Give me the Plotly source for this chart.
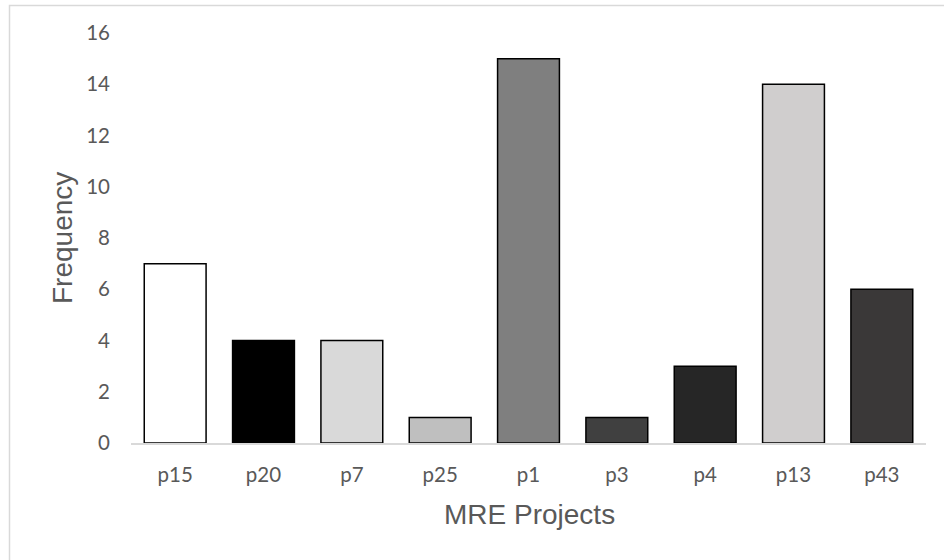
import plotly.graph_objects as go

projects = ["p15", "p20", "p7", "p25", "p1", "p3", "p4", "p13", "p43"]
frequency = [7, 4, 4, 1, 15, 1, 3, 14, 6]
bar_colors = ["#ffffff", "#000000", "#d9d9d9", "#bfbfbf", "#7f7f7f",
              "#404040", "#262626", "#d0cece", "#3a3838"]
y_ticks = [0, 2, 4, 6, 8, 10, 12, 14, 16]

W, H = 944, 560
L, R, T, B = 131, 18, 33, 117
pw, ph = W - L - R, H - T - B

def px_x(x):
    return (x - L) / pw

def px_y(y):
    return (H - B - y) / ph

fig = go.Figure(go.Bar(
    x=projects, y=frequency,
    marker=dict(color=bar_colors, line=dict(color="#000000", width=1.5)),
    width=0.7,
))

tick_font = dict(family="Lato, Carlito, Calibri, sans-serif", size=20.5, color="#595959")
title_font = dict(family="Arial, Liberation Sans, sans-serif", size=28, color="#595959")

fig.update_layout(
    width=W, height=H,
    margin=dict(l=L, r=R, t=T, b=B, pad=0),
    paper_bgcolor="#ffffff", plot_bgcolor="#ffffff",
    showlegend=False,
    bargap=0.3,
    xaxis=dict(
        showgrid=False, showline=True, linecolor="#d9d9d9", linewidth=1.5,
        ticks="", tickfont=tick_font, ticklabelstandoff=13,
    ),
    yaxis=dict(
        range=[0, 16], tickvals=y_ticks, showgrid=False, showline=False,
        zeroline=False, ticks="", tickfont=tick_font, ticklabelstandoff=20,
    ),
    shapes=[dict(
        type="rect", xref="paper", yref="paper",
        x0=px_x(9.5), x1=px_x(W + 20), y0=px_y(H + 20), y1=px_y(5.5),
        line=dict(color="#d9d9d9", width=1.5), fillcolor="rgba(0,0,0,0)",
        layer="below",
    )],
    annotations=[
        dict(text="MRE Projects", xref="paper", yref="paper",
             x=px_x(529), y=px_y(514), xanchor="center", yanchor="middle",
             showarrow=False, font=title_font),
        dict(text="Frequency", xref="paper", yref="paper",
             x=px_x(62), y=px_y(238), xanchor="center", yanchor="middle",
             textangle=-90, showarrow=False, font=title_font),
    ],
)

fig.write_html("out.html")
